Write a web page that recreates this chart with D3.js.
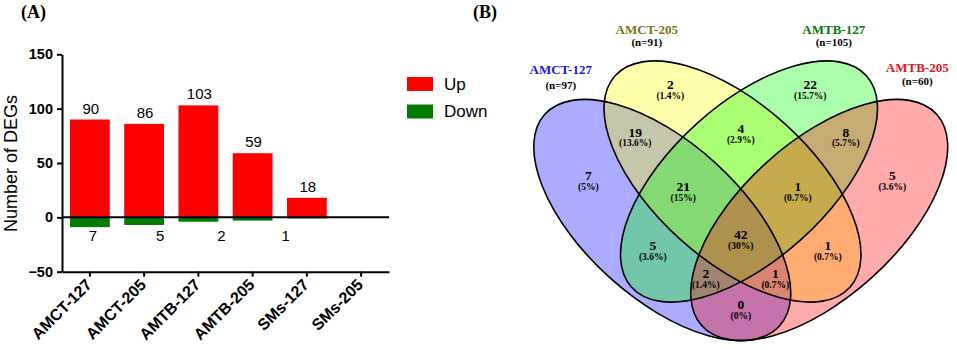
<!DOCTYPE html>
<html>
<head>
<meta charset="utf-8">
<script src="https://cdn.jsdelivr.net/npm/d3@7"></script>
<style>
  body { margin: 0; background: #fff; }
  svg { display: block; }
</style>
</head>
<body>
<svg id="chart" width="957" height="350"></svg>
<script>
// ---- bar chart data (panel A)
const categories = ["AMCT-127", "AMCT-205", "AMTB-127", "AMTB-205", "SMs-127", "SMs-205"];
const upValues = [90, 86, 103, 59, 18, 0];
const downValues = [9, 7, 4, 3, 1, 0];
const upLabels = ["90", "86", "103", "59", "18"];
const downLabels = ["7", "5", "2", "1"];
const yTicks = [-50, 0, 50, 100, 150];
const legendLabels = ["Up", "Down"];

// ---- venn data (panel B)
const setNames = ["AMCT-127", "AMCT-205", "AMTB-127", "AMTB-205"];
const setSizes = [97, 91, 105, 60];
const regionKeys = ["A", "B", "C", "D", "AB", "BC", "CD", "ABC", "BCD", "AC", "ABCD", "BD", "ACD", "ABD", "AD"];
const regionCounts = [7, 2, 22, 5, 19, 4, 8, 21, 1, 5, 42, 1, 2, 1, 0];
const regionPercents = ["5%", "1.4%", "15.7%", "3.6%", "13.6%", "2.9%", "5.7%", "15%", "0.7%", "3.6%", "30%", "0.7%", "1.4%", "0.7%", "0%"];

const SANS = '"Liberation Sans", Arial, sans-serif';
const SERIF = '"Liberation Serif", "Times New Roman", serif';

document.addEventListener('DOMContentLoaded', () => {
    const svg = d3.select("#chart");

    // ---------------- panel A ----------------
    const plot = { left: 62, right: 389, top: 54.3, bottom: 271.7 };

    const x = d3.scaleBand()
        .domain(categories)
        .range([plot.left, plot.right])
        .paddingInner(0.266)
        .paddingOuter(0.147);
    const y = d3.scaleLinear().domain([-50, 150]).range([plot.bottom, plot.top]);

    // up bars
    svg.append("g").selectAll("rect.up")
        .data(categories)
        .enter().append("rect")
        .attr("x", d => x(d))
        .attr("width", x.bandwidth())
        .attr("y", (d, i) => y(upValues[i]))
        .attr("height", (d, i) => y(0) - y(upValues[i]))
        .attr("fill", "#ff0000");

    // down bars
    svg.append("g").selectAll("rect.down")
        .data(categories)
        .enter().append("rect")
        .attr("x", d => x(d))
        .attr("width", x.bandwidth())
        .attr("y", y(0))
        .attr("height", (d, i) => y(-downValues[i]) - y(0))
        .attr("fill", "#007a00");

    // zero line
    svg.append("line")
        .attr("x1", plot.left).attr("x2", plot.right)
        .attr("y1", y(0)).attr("y2", y(0))
        .attr("stroke", "#000").attr("stroke-width", 2);

    // y axis
    const yAxis = svg.append("g")
        .attr("transform", `translate(${plot.left},0)`)
        .call(d3.axisLeft(y).tickValues(yTicks).tickSize(5).tickSizeOuter(0).tickPadding(4));
    // x axis
    const xAxis = svg.append("g")
        .attr("transform", `translate(0,${plot.bottom})`)
        .call(d3.axisBottom(x).tickSize(5).tickSizeOuter(0).tickFormat(""));

    [yAxis, xAxis].forEach(a => {
        a.select(".domain").attr("stroke", "#000").attr("stroke-width", 2);
        a.selectAll(".tick line").attr("stroke", "#000").attr("stroke-width", 2);
    });
    yAxis.selectAll("text")
        .style("font-family", SANS).style("font-size", "14.5px")
        .style("font-weight", "bold").attr("fill", "#000");

    // rotated category labels
    svg.append("g").selectAll("text")
        .data(categories)
        .enter().append("text")
        .attr("transform", d => `translate(${x(d) + x.bandwidth() / 2 + 3},${plot.bottom + 14}) rotate(-45)`)
        .attr("text-anchor", "end")
        .style("font-family", SANS).style("font-size", "16px").style("font-weight", "bold")
        .text(d => d);

    // value labels
    svg.append("g").selectAll("text")
        .data(upLabels)
        .enter().append("text")
        .attr("x", (d, i) => x(categories[i]) + x.bandwidth() / 2 + 1)
        .attr("y", (d, i) => y(upValues[i]) - 6)
        .attr("text-anchor", "middle")
        .style("font-family", SANS).style("font-size", "15px")
        .text(d => d);

    const downShift = [3, 16, 23, 33]; // labels sit a bit right of the bars
    svg.append("g").selectAll("text")
        .data(downLabels)
        .enter().append("text")
        .attr("x", (d, i) => x(categories[i]) + x.bandwidth() / 2 + downShift[i])
        .attr("y", y(-21.5))
        .attr("text-anchor", "middle")
        .style("font-family", SANS).style("font-size", "15px")
        .text(d => d);

    // y title
    svg.append("text")
        .attr("transform", `translate(17,${(plot.top + plot.bottom) / 2 + 0.5}) rotate(-90)`)
        .attr("text-anchor", "middle")
        .style("font-family", SANS).style("font-size", "18px")
        .text("Number of DEGs");

    // legend
    const legendColors = ["#ff0000", "#007a00"];
    const legend = svg.append("g").attr("transform", "translate(407,77)");
    legendLabels.forEach((l, i) => {
        legend.append("rect")
            .attr("x", 0).attr("y", i * 27.5)
            .attr("width", 26).attr("height", 14)
            .attr("fill", legendColors[i]);
        legend.append("text")
            .attr("x", 37).attr("y", i * 27.5 + 12.5)
            .style("font-family", SANS).style("font-size", "17px")
            .text(l);
    });

    // panel letters
    svg.append("text").attr("x", 21).attr("y", 18)
        .style("font-family", SERIF).style("font-size", "18px").style("font-weight", "bold")
        .text("(A)");
    svg.append("text").attr("x", 473).attr("y", 18)
        .style("font-family", SERIF).style("font-size", "18px").style("font-weight", "bold")
        .text("(B)");

    // ---------------- panel B ----------------
    const venn = svg.append("g").attr("transform", "translate(740.75,0)");
    const shape = { rx: 158, ry: 78, angle: 42 };
    const ellipses = [
        { cx: -78.5, cy: 220, tilt: 1, color: "#0000ff" },
        { cx: -8.25, cy: 181.5, tilt: 1, color: "#ffff00" },
        { cx: 8.25, cy: 181.5, tilt: -1, color: "#00ff00" },
        { cx: 78.5, cy: 220, tilt: -1, color: "#ff0000" }
    ];
    const ellTransform = e => `translate(${e.cx},${e.cy}) rotate(${e.tilt * shape.angle})`;

    venn.append("g").selectAll("ellipse")
        .data(ellipses)
        .enter().append("ellipse")
        .attr("rx", shape.rx).attr("ry", shape.ry)
        .attr("transform", ellTransform)
        .attr("fill", e => e.color)
        .attr("fill-opacity", 0.33);
    venn.append("g").selectAll("ellipse")
        .data(ellipses)
        .enter().append("ellipse")
        .attr("rx", shape.rx).attr("ry", shape.ry)
        .attr("transform", ellTransform)
        .attr("fill", "none")
        .attr("stroke", "#000")
        .attr("stroke-width", 1.6);

    // set titles
    const titleColors = ["#1818e8", "#7c7410", "#0c780c", "#e8141e"];
    const titlePos = [[-180, 73.5, 88.5], [-94, 33.5, 46], [93, 33.5, 46], [176.5, 72, 84.5]];
    setNames.forEach((n, i) => {
        const p = titlePos[i];
        venn.append("text")
            .attr("x", p[0]).attr("y", p[1])
            .attr("text-anchor", "middle").attr("fill", titleColors[i])
            .style("font-family", SERIF).style("font-size", "13px").style("font-weight", "bold")
            .text(n);
        venn.append("text")
            .attr("x", p[0]).attr("y", p[2])
            .attr("text-anchor", "middle").attr("fill", "#000")
            .style("font-family", SERIF).style("font-size", "11px").style("font-weight", "bold")
            .text(`(n=${setSizes[i]})`);
    });

    // region labels
    const labelPos = {
        A: [-152.5, 180], B: [-70.5, 89.3], C: [69.5, 89.3], D: [151.5, 180],
        AB: [-105.5, 136.7], BC: [0, 133.3], CD: [105, 136.7],
        ABC: [-57.5, 191], BCD: [57, 191],
        AC: [-88, 250], ABCD: [0, 239.3], BD: [87, 250],
        ACD: [-35, 278.3], ABD: [34.5, 278.3], AD: [0, 309.3]
    };
    const regions = venn.append("g");
    regionKeys.forEach((k, i) => {
        const p = labelPos[k];
        regions.append("text")
            .attr("x", p[0]).attr("y", p[1])
            .attr("text-anchor", "middle")
            .style("font-family", SERIF).style("font-size", "13.5px").style("font-weight", "bold")
            .text(regionCounts[i]);
        regions.append("text")
            .attr("x", p[0]).attr("y", p[1] + 9.5)
            .attr("text-anchor", "middle")
            .style("font-family", SERIF).style("font-size", "9.5px").style("font-weight", "bold")
            .text(`(${regionPercents[i]})`);
    });
});
</script>
</body>
</html>
